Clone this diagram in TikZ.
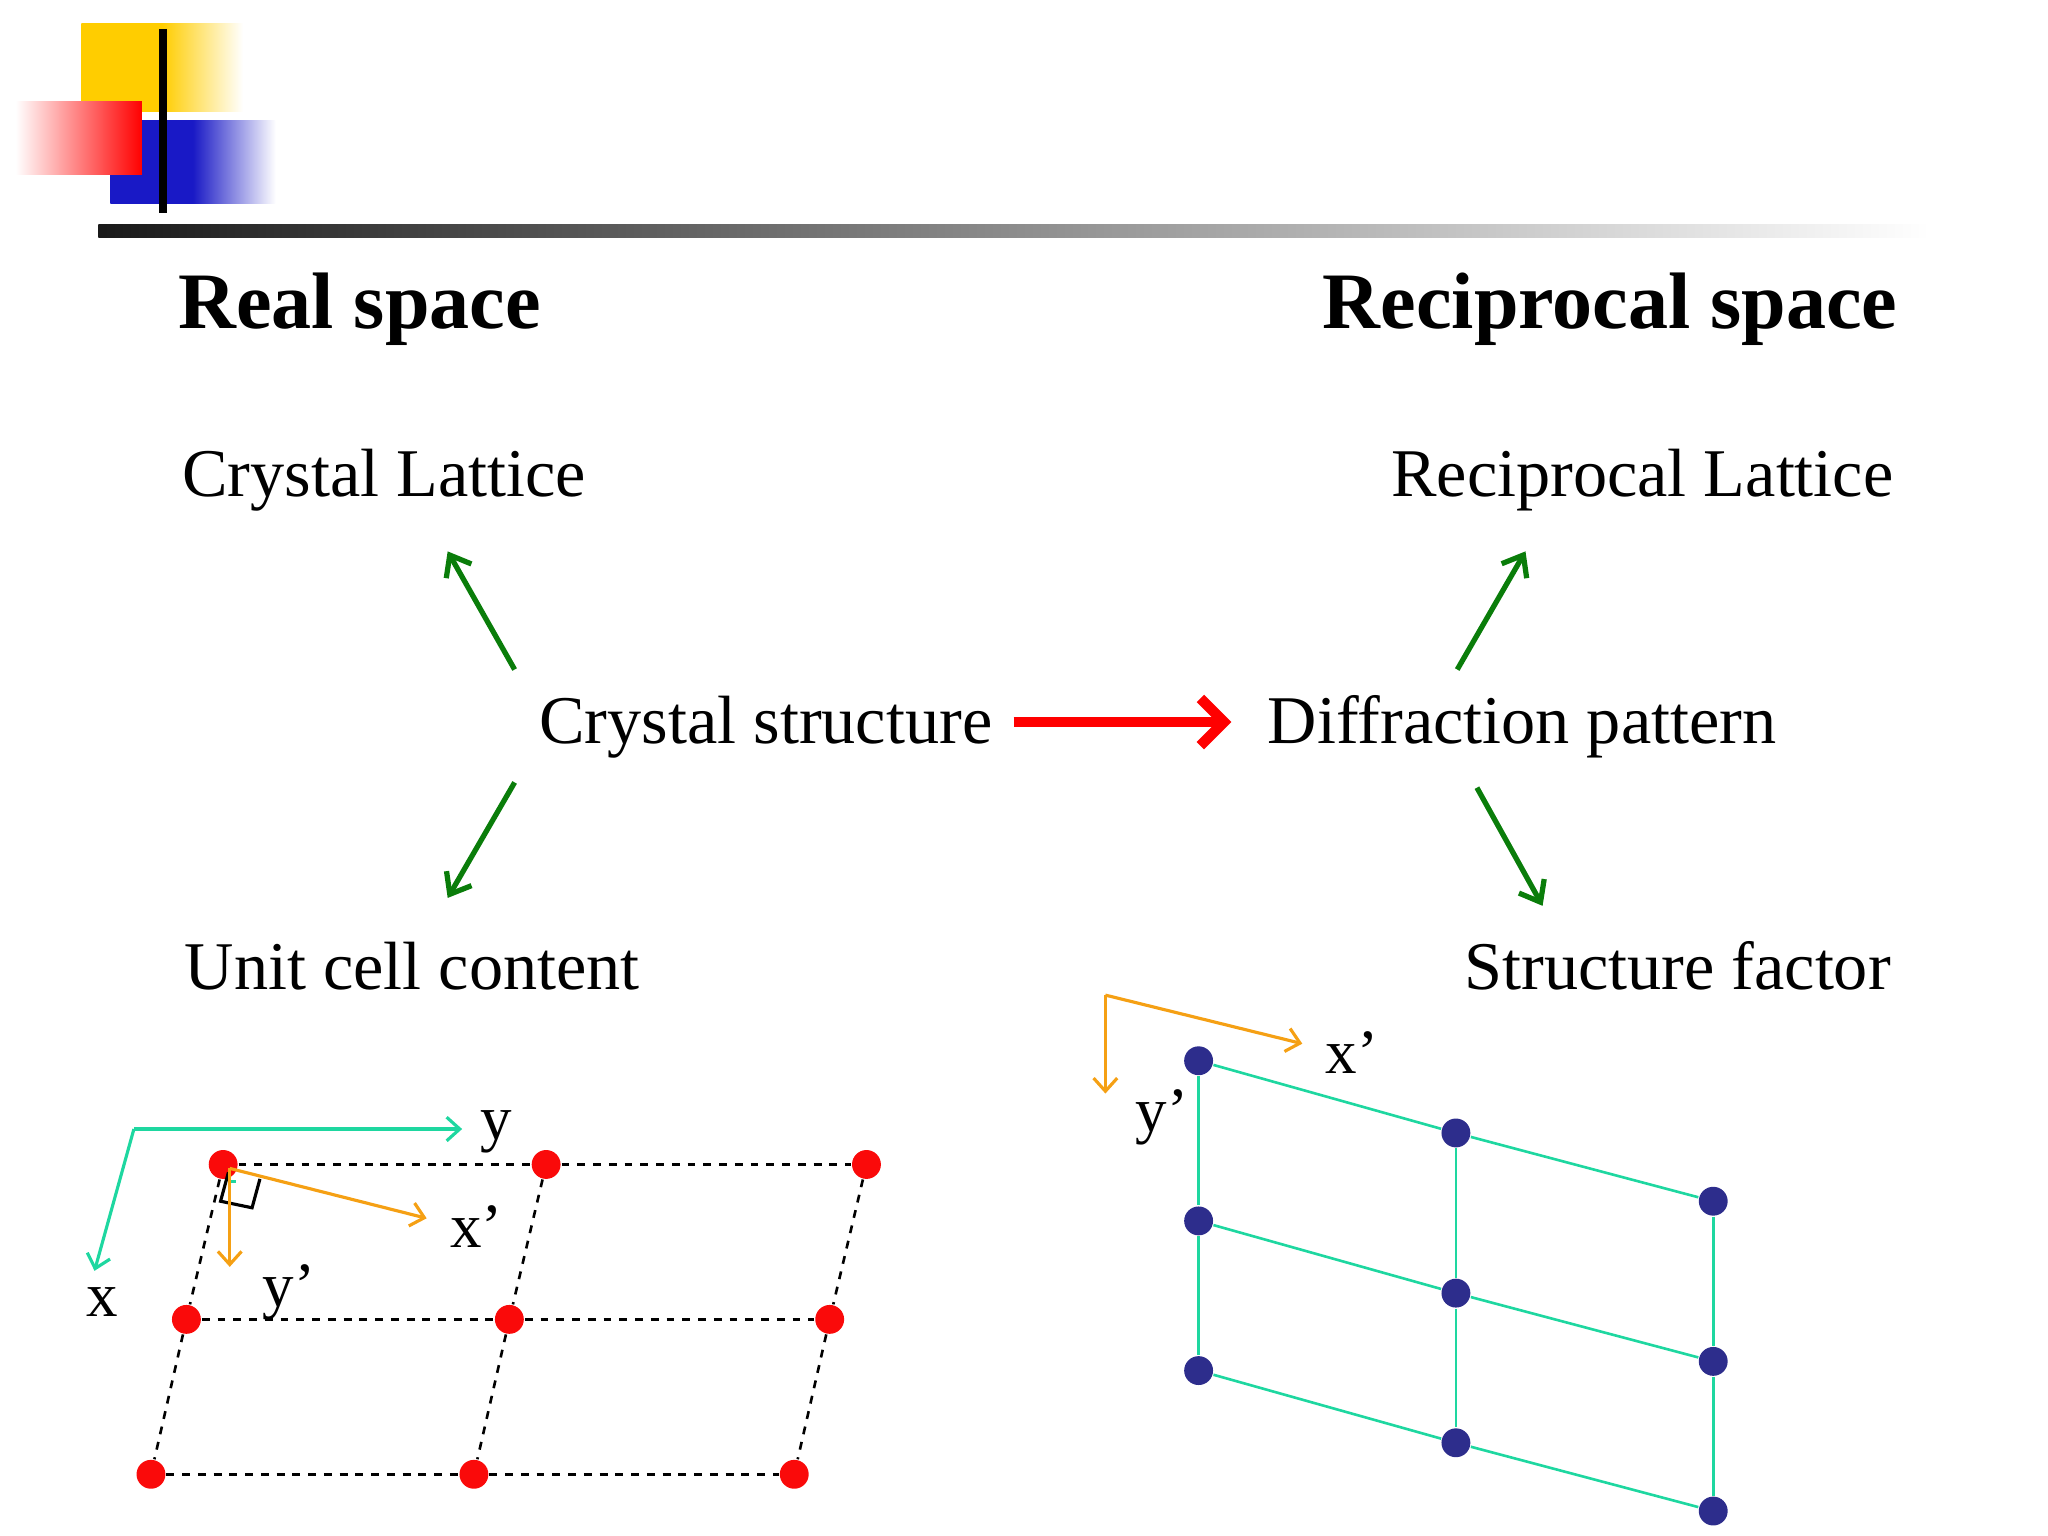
\documentclass[tikz,border=0pt]{standalone}
\usepackage{fontspec}
\setmainfont{Liberation Serif}
\usetikzlibrary{arrows.meta}
\tikzset{every picture/.style={line width=0.75pt}}
\definecolor{dotred}{RGB}{250,10,10}
\definecolor{dotblue}{RGB}{45,45,140}
\definecolor{axgreen}{RGB}{30,215,160}
\definecolor{axorange}{RGB}{245,160,20}
\definecolor{arrgreen}{RGB}{10,125,10}
\definecolor{gold}{RGB}{255,205,0}
\tikzset{
  head/.style={font=\fontsize{30.5}{36}\selectfont\bfseries, inner sep=0pt},
  item/.style={font=\fontsize{26}{32}\selectfont, inner sep=0pt},
  lbl/.style={font=\fontsize{24}{30}\selectfont, inner sep=0pt},
  reddot/.style={circle, fill=dotred, inner sep=0pt, minimum size=11pt},
  bluedot/.style={circle, fill=dotblue, inner sep=0pt, minimum size=11pt},
  grarrow/.style={arrgreen, line width=2pt, -{Straight Barb[length=7pt,width=11pt]}},
  axis/.style={line width=1.2pt, -{Straight Barb[length=5pt,width=9pt]}},
}

\begin{document}
\begin{tikzpicture}[x=0.5pt,y=0.5pt,yscale=-1,xscale=1]
\useasboundingbox (0,0) rectangle (1560,1170);

%Header decoration
\shade[left color=gold, right color=white, middle color=gold] (62,18) rectangle (185,85);
\shade[left color=blue!75!black!90, right color=white, middle color=blue!75!black!90] (84,92) rectangle (210,155);
\shade[left color=white, right color=red] (12,77) rectangle (108,133);
\draw[line width=3pt] (124,22) -- (124,162);
\shade[left color=black!90, right color=white] (75,171) rectangle (1470,181);

%Titles
\node[head, anchor=base west] (real) at (135,250) {Real space};
\node[head, anchor=base east] (recip) at (1446,250) {Reciprocal space};

%Items
\node[item, anchor=base west] (lattice) at (138,378) {Crystal Lattice};
\node[item, anchor=base east] (rlattice) at (1443,378) {Reciprocal Lattice};
\node[item, anchor=base west] (structure) at (410,566) {Crystal structure};
\node[item, anchor=base west] (pattern) at (965,566) {Diffraction pattern};
\node[item, anchor=base west] (content) at (140,754) {Unit cell content};
\node[item, anchor=base east] (factor) at (1441,754) {Structure factor};

%Arrows
\coordinate (s1) at (392,510); \coordinate (e1) at (341,420);
\coordinate (s2) at (392,596); \coordinate (e2) at (341,684);
\coordinate (s3) at (1110,510); \coordinate (e3) at (1162,420);
\coordinate (s4) at (1125,600); \coordinate (e4) at (1175,690);
\coordinate (rs) at (772,550); \coordinate (re) at (938,550);
\draw[grarrow] (s1) -- (e1);
\draw[grarrow] (s2) -- (e2);
\draw[grarrow] (s3) -- (e3);
\draw[grarrow] (s4) -- (e4);
\draw[red, line width=4pt, -{Straight Barb[length=9pt,width=18pt]}] (rs) -- (re);

%Real lattice
\foreach \r/\y/\dx in {1/887/0, 2/1005/-28, 3/1123/-55}
  \foreach \c/\x in {1/170, 2/416, 3/660}
    \node[reddot] (p\r\c) at (\x+\dx,\y) {};
\foreach \r in {1,2,3} {
  \draw[dashed, line width=1pt] (p\r1) -- (p\r2) -- (p\r3);
}
\foreach \c in {1,2,3} {
  \draw[dashed, line width=1pt] (p1\c) -- (p2\c) -- (p3\c);
}
\coordinate (o1) at (102,860);
\coordinate (ey) at (352,860);
\coordinate (ex) at (72,968);
\draw[axis, axgreen] (o1) -- (ey);
\draw[axis, axgreen] (o1) -- (ex);
\node[lbl, anchor=base] (ly) at (378,868) {y};
\node[lbl, anchor=base] (lx) at (78,1003) {x};
\draw[line width=1.2pt] (174,893) -- (168,915) -- (192,920) -- (198,898);
\draw[axgreen, line width=1pt] (175,893) -- (175,900) -- (180,900);
\coordinate (o2) at (175,890);
\coordinate (exp) at (325,928);
\coordinate (eyp) at (175,965);
\draw[axis, axorange] (o2) -- (exp);
\draw[axis, axorange] (o2) -- (eyp);
\node[lbl, anchor=base] (lxp) at (363,950) {x’};
\node[lbl, anchor=base] (lyp) at (220,995) {y’};

%Reciprocal lattice
\foreach \c/\x/\y in {1/913/808, 2/1109/863, 3/1305/915}
  \foreach \r/\dy in {1/0, 2/122, 3/236}
    \node[bluedot] (q\r\c) at (\x,\y+\dy) {};
\foreach \r in {1,2,3} {
  \draw[axgreen, line width=1pt] (q\r1) -- (q\r2) -- (q\r3);
}
\foreach \c in {1,2,3} {
  \draw[axgreen, line width=1pt] (q1\c) -- (q2\c) -- (q3\c);
}
\coordinate (o3) at (842,758);
\coordinate (fxp) at (992,795);
\coordinate (fyp) at (842,833);
\draw[axis, axorange] (o3) -- (fxp);
\draw[axis, axorange] (o3) -- (fyp);
\node[lbl, anchor=base] (mxp) at (1030,818) {x’};
\node[lbl, anchor=base] (myp) at (885,862) {y’};

\end{tikzpicture}
\end{document}
